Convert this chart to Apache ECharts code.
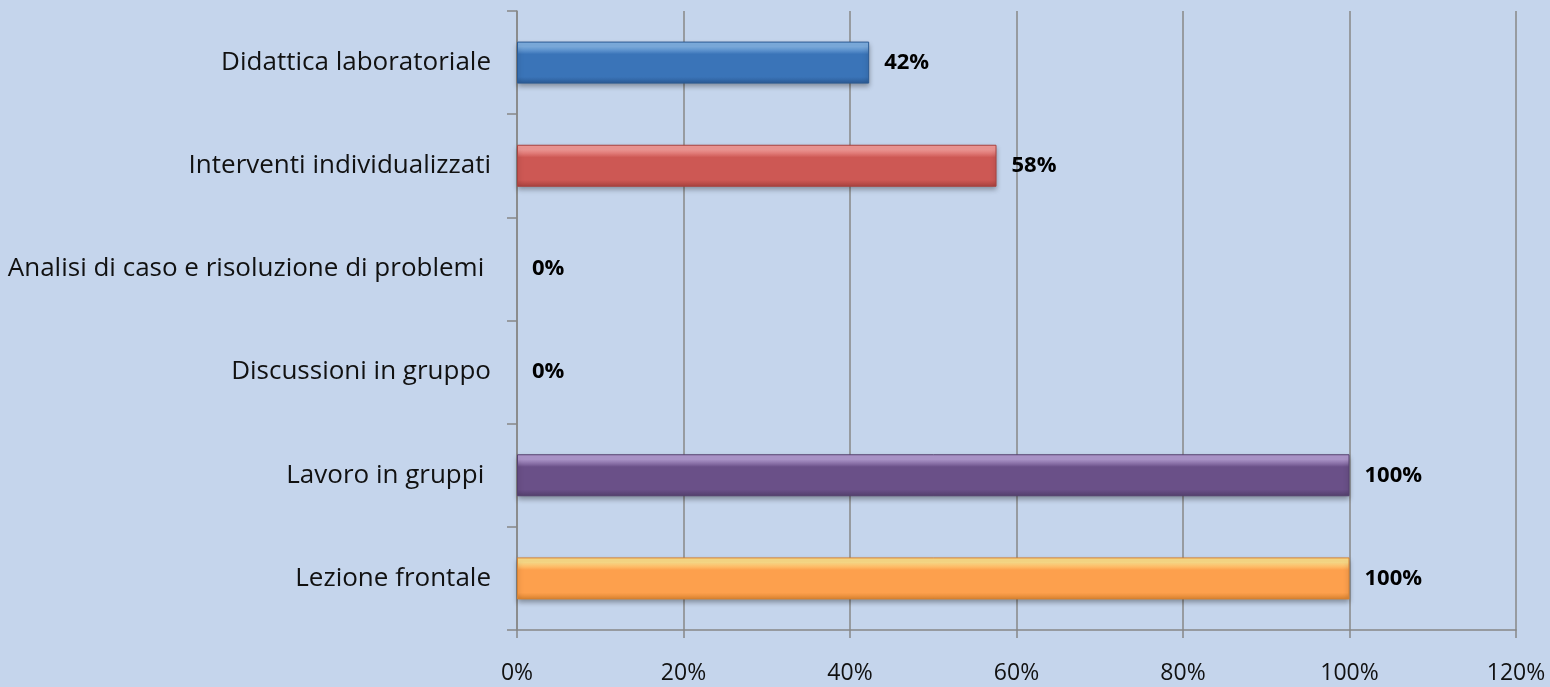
<!DOCTYPE html>
<html>
<head>
<meta charset="utf-8">
<title>Metodologie</title>
<script src="https://cdn.jsdelivr.net/npm/echarts@6/dist/echarts.min.js"></script>
<style>
    html, body { margin: 0; padding: 0; background: #c5d5ec; }
    #main { width: 1550px; height: 687px; }
</style>
</head>
<body>
<div id="main"></div>
<script type="text/javascript">
    // categorie dall'alto verso il basso
    var categories = [
        'Didattica laboratoriale',
        'Interventi individualizzati',
        'Analisi di caso e risoluzione di problemi ',
        'Discussioni in gruppo',
        'Lavoro in gruppi ',
        'Lezione frontale'
    ];
    var values = [42.3, 57.6, 0, 0, 100, 100];
    var xTicks = [0, 20, 40, 60, 80, 100, 120];

    // colori barre: [chiaro, base, scuro, bordo]
    var barColors = [
        ['#7fb0e3', '#3a74b8', '#2b5a94', '#2c5a92'],
        ['#f49a97', '#cd5854', '#a9423f', '#a8433f'],
        ['#f49a97', '#cd5854', '#a9423f', '#a8433f'],
        ['#f49a97', '#cd5854', '#a9423f', '#a8433f'],
        ['#b29ad0', '#6a5088', '#54406d', '#55416e'],
        ['#ffdf8a', '#fda04d', '#d9822f', '#d68232']
    ];

    function bevel(c) {
        return new echarts.graphic.LinearGradient(0, 0, 0, 1, [
            {offset: 0, color: c[0]},
            {offset: 0.12, color: c[0]},
            {offset: 0.3, color: c[1]},
            {offset: 0.84, color: c[1]},
            {offset: 1, color: c[2]}
        ]);
    }

    var myChart = echarts.init(document.getElementById('main'));

    var option = {
        backgroundColor: '#c5d5ec',
        animation: false,
        grid: {
            left: 517,
            right: 34,
            top: 11,
            bottom: 57
        },
        xAxis: {
            type: 'value',
            min: 0,
            max: 120,
            interval: 20,
            axisLine: {show: true, lineStyle: {color: '#878787', width: 1.5}},
            axisTick: {show: true, length: 8, lineStyle: {color: '#878787', width: 1.5}},
            splitLine: {show: true, lineStyle: {color: '#878787', width: 1.5}},
            axisLabel: {
                margin: 32,
                color: '#111',
                fontFamily: 'Open Sans',
                fontSize: 23,
                formatter: function (v) {
                    return xTicks.indexOf(v) >= 0 ? v + '%' : '';
                }
            }
        },
        yAxis: {
            type: 'category',
            inverse: true,
            data: categories,
            axisLine: {show: true, lineStyle: {color: '#878787', width: 1.5}},
            axisTick: {show: true, length: 10, lineStyle: {color: '#878787', width: 1.5}},
            axisLabel: {
                margin: 26,
                color: '#111',
                fontFamily: 'Open Sans',
                fontSize: 26
            }
        },
        series: [{
            type: 'bar',
            barWidth: 42,
            data: values.map(function (v, i) {
                return {
                    value: v,
                    itemStyle: {
                        color: bevel(barColors[i]),
                        borderColor: barColors[i][3],
                        borderWidth: v > 0 ? 1 : 0,
                        shadowColor: v > 0 ? 'rgba(0,0,0,0.35)' : 'rgba(0,0,0,0)',
                        shadowBlur: 5,
                        shadowOffsetY: 3
                    }
                };
            }),
            label: {
                show: true,
                position: 'right',
                distance: 15,
                color: '#000',
                fontFamily: 'Open Sans',
                fontWeight: 'bold',
                fontSize: 22,
                formatter: function (p) {
                    return Math.round(p.value) + '%';
                }
            }
        }]
    };

    myChart.setOption(option);
</script>
</body>
</html>
